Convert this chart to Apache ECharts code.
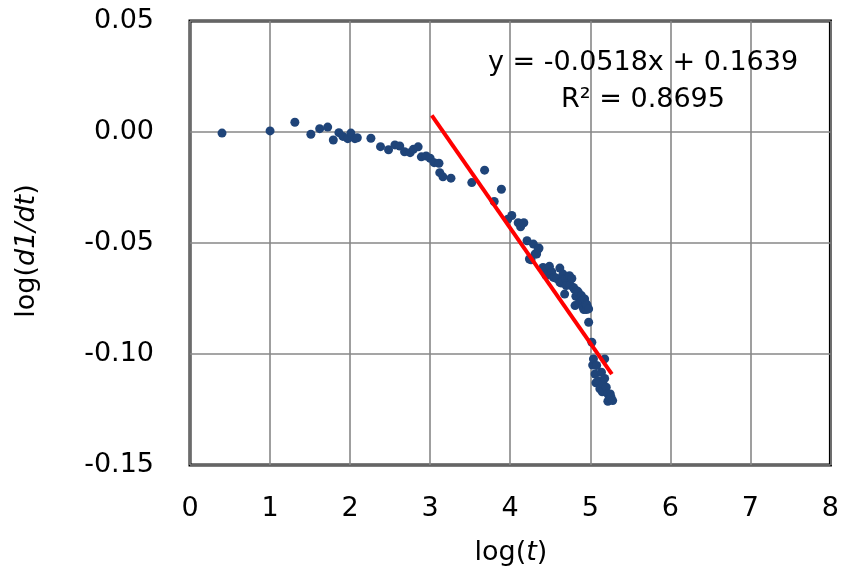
<!DOCTYPE html>
<html>
<head>
<meta charset="utf-8">
<script src="https://cdn.jsdelivr.net/npm/echarts@6/dist/echarts.min.js"></script>
<style>
html,body{margin:0;padding:0;background:#fff;}
#chart{width:842px;height:575px;}
</style>
</head>
<body>
<div id="chart"></div>
<script>
// Data
var logT = [0.40,1.00,1.31,1.51,1.62,1.72,1.79,1.86,1.91,1.97,2.01,2.06,2.09,2.26,2.38,2.48,2.56,2.62,2.68,2.75,2.79,2.85,2.89,2.95,3.00,3.05,3.11,3.12,3.16,3.26,3.52,3.68,3.80,3.89,3.97,4.02,4.10,4.13,4.17,4.21,4.24,4.26,4.29,4.31,4.33,4.35,4.36,4.41,4.43,4.45,4.49,4.52,4.54,4.56,4.58,4.62,4.62,4.64,4.66,4.66,4.68,4.69,4.70,4.72,4.74,4.75,4.77,4.79,4.80,4.81,4.82,4.83,4.85,4.86,4.87,4.89,4.90,4.91,4.92,4.93,4.95,4.95,4.96,4.98,4.98,5.02,5.03,5.04,5.06,5.07,5.08,5.10,5.12,5.14,5.15,5.16,5.18,5.18,5.20,5.22,5.22,5.24,5.25,5.26,5.28];
var logRate = [-0.0005,0.0005,0.0044,-0.0010,0.0015,0.0022,-0.0036,-0.0003,-0.0020,-0.0030,-0.0005,-0.0030,-0.0026,-0.0028,-0.0066,-0.0080,-0.0058,-0.0063,-0.0089,-0.0093,-0.0078,-0.0067,-0.0112,-0.0108,-0.0118,-0.0138,-0.0141,-0.0183,-0.0202,-0.0208,-0.0228,-0.0172,-0.0313,-0.0258,-0.0393,-0.0376,-0.0409,-0.0427,-0.0409,-0.0490,-0.0572,-0.0576,-0.0505,-0.0550,-0.0550,-0.0527,-0.0523,-0.0610,-0.0620,-0.0647,-0.0605,-0.0630,-0.0655,-0.0655,-0.0660,-0.0613,-0.0677,-0.0680,-0.0640,-0.0670,-0.0730,-0.0660,-0.0692,-0.0655,-0.0647,-0.0690,-0.0660,-0.0700,-0.0707,-0.0782,-0.0740,-0.0715,-0.0720,-0.0770,-0.0768,-0.0737,-0.0760,-0.0790,-0.0800,-0.0752,-0.0775,-0.0800,-0.0780,-0.0797,-0.0857,-0.0947,-0.1050,-0.1022,-0.1090,-0.1130,-0.1052,-0.1120,-0.1157,-0.1082,-0.1170,-0.1135,-0.1022,-0.1110,-0.1150,-0.1180,-0.1213,-0.1200,-0.1180,-0.1195,-0.1210];
var trendX = [3.02, 5.27];
var trendY = [0.0075, -0.1091];
var eqText = 'y = -0.0518x + 0.1639';
var r2Text = 'R² = 0.8695';
var xTicks = [0,1,2,3,4,5,6,7,8];
var yTicks = ['0.05','0.00','-0.05','-0.10','-0.15'];

var FONT = 'DejaVu Sans';
var FS = 27;

var points = logT.map(function(x,i){return [x, logRate[i]];});
var trend = trendX.map(function(x,i){return [x, trendY[i]];});

var chart = echarts.init(document.getElementById('chart'), null, {renderer:'canvas'});
chart.setOption({
  animation:false,
  backgroundColor:'#fff',
  grid:{left:190, right:11, top:21, bottom:110, show:true, borderColor:'#000', borderWidth:3, backgroundColor:'transparent'},
  xAxis:{
    type:'value', min:0, max:8, interval:1,
    axisLine:{show:false}, axisTick:{show:false},
    splitLine:{show:true, lineStyle:{color:'#878787', width:1.6}},
    axisLabel:{margin:30, color:'#000', fontFamily:FONT, fontSize:FS,
      formatter:function(v){return String(xTicks[Math.round(v)]);}}
  },
  yAxis:{
    type:'value', min:-0.15, max:0.05, interval:0.05,
    axisLine:{show:false}, axisTick:{show:false},
    splitLine:{show:true, lineStyle:{color:'#878787', width:1.6}},
    axisLabel:{margin:36, color:'#000', fontFamily:FONT, fontSize:FS,
      formatter:function(v){var idx=Math.round((0.05-v)/0.05);return yTicks[idx];}}
  },
  series:[
    {type:'scatter', data:points, symbol:'circle', symbolSize:9,
      itemStyle:{color:'#1f4479', opacity:1}, z:3},
    {type:'line', data:trend, symbol:'none', lineStyle:{color:'#ff0000', width:4}, z:4}
  ],
  graphic:[
    {type:'text', x:643, y:63, z:10, style:{text:eqText, font:FS+'px "'+FONT+'"', fill:'#000', align:'center', verticalAlign:'middle'}},
    {type:'text', x:643, y:100, z:10, style:{text:r2Text, font:FS+'px "'+FONT+'"', fill:'#000', align:'center', verticalAlign:'middle'}},
    {type:'text', x:511, y:553, z:10, style:{text:'{a|log(}{b|t}{a|)}', align:'center', verticalAlign:'middle',
      rich:{a:{fontFamily:FONT, fontSize:FS, fill:'#000', color:'#000'}, b:{fontFamily:FONT, fontSize:FS, fontStyle:'italic', fill:'#000', color:'#000'}}}},
    {type:'text', x:27, y:251, rotation:Math.PI/2, z:10, style:{text:'{a|log(}{b|d1/dt}{a|)}', align:'center', verticalAlign:'middle',
      rich:{a:{fontFamily:FONT, fontSize:FS, fill:'#000', color:'#000'}, b:{fontFamily:FONT, fontSize:FS, fontStyle:'italic', fill:'#000', color:'#000'}}}}
  ]
});
</script>
</body>
</html>
